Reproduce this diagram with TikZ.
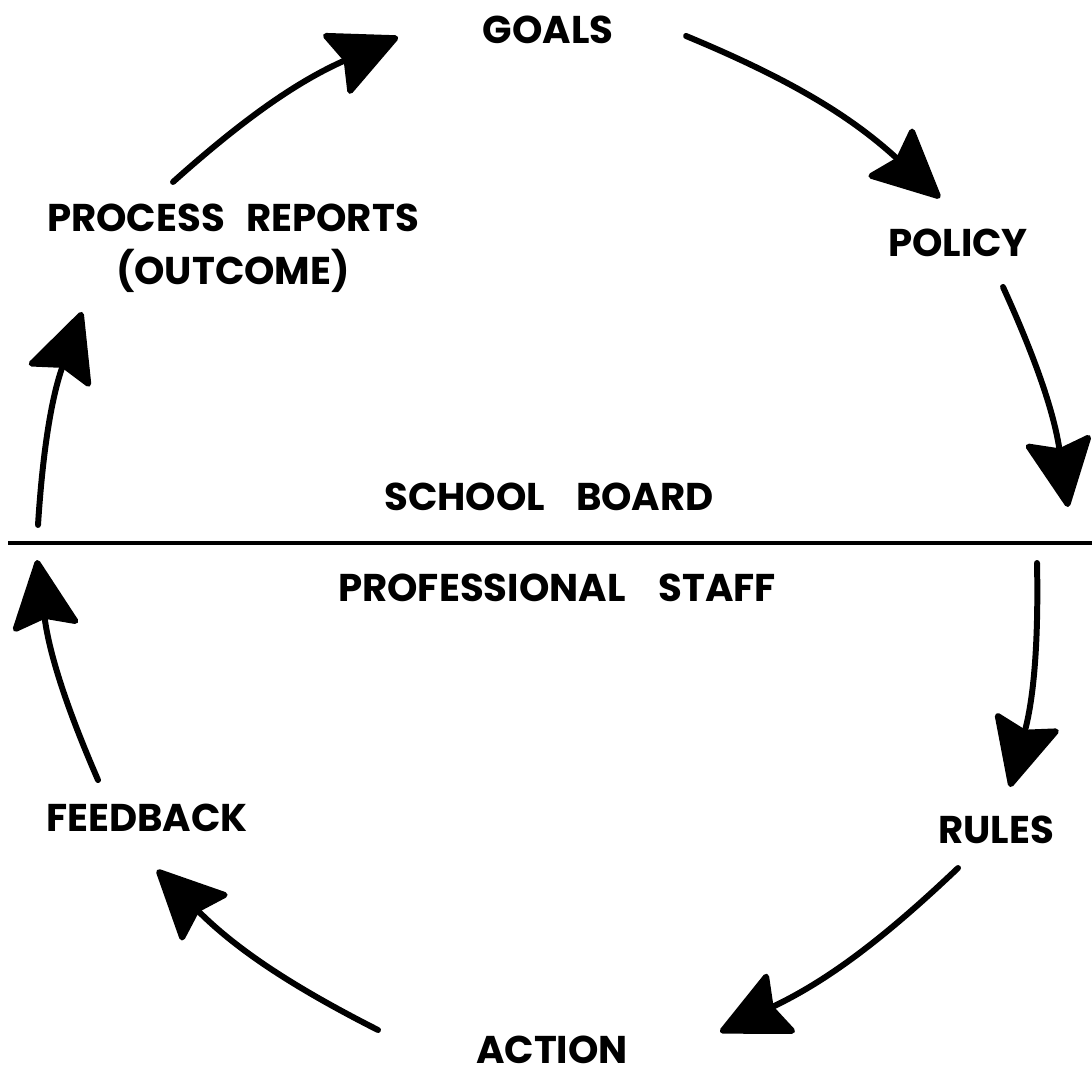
\documentclass[tikz,border=0pt]{standalone}
\usepackage{fontspec}
\setmainfont{Poppins}
\usetikzlibrary{arrows.meta}
\begin{document}
\begin{tikzpicture}[x=0.01cm,y=-0.01cm,
  lbl/.style={font=\fontsize{11}{15}\selectfont\bfseries, inner sep=0pt, align=center},
  flow/.style={line width=1.7pt, line cap=round,
    -{Stealth[length=21pt,width=20pt,inset=3pt,round]}},
  divider/.style={line width=1.2pt}]
\useasboundingbox (0,0) rectangle (1092,1080);

% labels around the cycle
\node[lbl] (goals)    at (548,30)   {GOALS};
\node[lbl] (policy)   at (958,243)  {POLICY};
\node[lbl] (reports)  at (233,248)  {PROCESS\hspace{0.55em}REPORTS\\(OUTCOME)};
\node[lbl] (board)    at (549,497)  {SCHOOL\hspace{0.8em}BOARD};
\node[lbl] (staff)    at (557,588)  {PROFESSIONAL\hspace{0.85em}STAFF};
\node[lbl] (feedback) at (147,818)  {FEEDBACK};
\node[lbl] (rules)    at (996,830)  {RULES};
\node[lbl] (action)   at (552,1050) {ACTION};

% dividing line between board and staff
\coordinate (divl) at (8,543);
\coordinate (divr) at (1092,543);
\draw[divider] (divl) -- (divr);

% arrow end points
\coordinate (a1s) at (686,36);   \coordinate (a1e) at (940,198);
\coordinate (a2s) at (1003,287); \coordinate (a2e) at (1068,507);
\coordinate (a3s) at (1037,563); \coordinate (a3e) at (1010,787);
\coordinate (a4s) at (958,868);  \coordinate (a4e) at (720,1032);
\coordinate (a5s) at (378,1030); \coordinate (a5e) at (157,870);
\coordinate (a6s) at (98,780);   \coordinate (a6e) at (37,560);
\coordinate (a7s) at (38,525);   \coordinate (a7e) at (82,312);
\coordinate (a8s) at (173,182);  \coordinate (a8e) at (398,37);

% clockwise cycle of arrows
\draw[flow] (a1s) to[bend left=10] (a1e);
\draw[flow] (a2s) to[bend left=8] (a2e);
\draw[flow] (a3s) to[bend left=8] (a3e);
\draw[flow] (a4s) to[bend left=9] (a4e);
\draw[flow] (a5s) to[bend left=9] (a5e);
\draw[flow] (a6s) to[bend left=8] (a6e);
\draw[flow] (a7s) to[bend left=8] (a7e);
\draw[flow] (a8s) to[bend left=9] (a8e);
\end{tikzpicture}
\end{document}
